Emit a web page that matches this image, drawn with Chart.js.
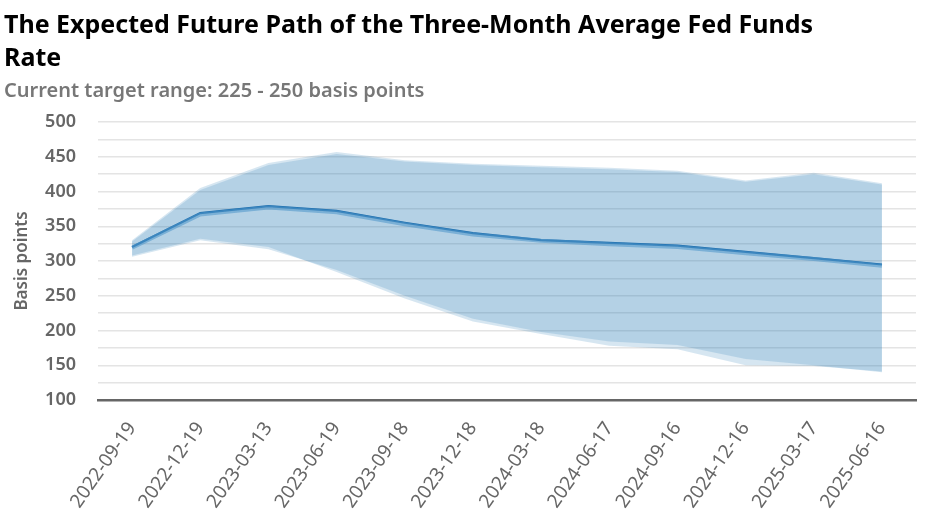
<!DOCTYPE html>
<html>
<head>
<meta charset="utf-8">
<script src="https://cdn.jsdelivr.net/npm/chart.js@4.4.0/dist/chart.umd.min.js"></script>
<style>
  body { margin: 0; background: #fff; }
  #wrap { width: 936px; height: 516px; }
</style>
</head>
<body>
<div id="wrap"><canvas id="fedChart"></canvas></div>
<script>
// Meeting dates (x categories)
const dates = ["2022-09-19", "2022-12-19", "2023-03-13", "2023-06-19", "2023-09-18", "2023-12-18",
               "2024-03-18", "2024-06-17", "2024-09-16", "2024-12-16", "2025-03-17", "2025-06-16"];

// Outer bands (basis points)
const upperA = [330, 405, 441, 457, 445, 440, 437, 434, 430, 416, 427, 412];
const lowerA = [306, 330, 317, 287, 250, 217, 198, 184, 179, 159, 150, 140];
const upperB = [328, 402, 438, 454, 443, 438, 435, 432, 428, 414, 425, 410];
const lowerB = [308, 332, 320, 284, 246, 213, 195, 178, 173, 150, 149, 141];

// Central paths
const pathLight = [319, 367, 377, 370, 353, 338, 329, 324, 320, 311, 303, 293];
const pathDark = [320, 369, 379, 372, 355, 340, 330, 326, 322, 313, 304, 295];

const bandFill = "rgba(31,119,180,0.185)";
const font = "'Noto Sans', sans-serif";

document.addEventListener("DOMContentLoaded", function () {
    const canvas = document.getElementById("fedChart");

    function bandTop(data) {
        return { data: data, fill: "+1", backgroundColor: bandFill, borderWidth: 0, pointRadius: 0, tension: 0 };
    }
    function bandBottom(data) {
        return { data: data, fill: false, borderWidth: 0, pointRadius: 0, tension: 0 };
    }

    new Chart(canvas, {
        type: "line",
        data: {
            labels: dates,
            datasets: [
                bandTop(upperA), bandBottom(lowerA),
                bandTop(upperB), bandBottom(lowerB),
                {
                    data: pathLight,
                    borderColor: "rgba(110,170,215,0.6)",
                    borderWidth: 4,
                    pointRadius: 0,
                    fill: false
                },
                {
                    data: pathDark,
                    borderColor: "#1766a9",
                    borderWidth: 2.2,
                    pointRadius: 0,
                    fill: false
                }
            ]
        },
        options: {
            responsive: true,
            maintainAspectRatio: false,
            animation: false,
            layout: { padding: { left: 4, right: 20, top: 2, bottom: 1 } },
            plugins: {
                legend: { display: false },
                tooltip: { enabled: false },
                title: {
                    display: true,
                    align: "start",
                    text: ["The Expected Future Path of the Three-Month Average Fed Funds", "Rate"],
                    color: "#000",
                    font: { family: font, size: 25, weight: "bold", lineHeight: 1.3 },
                    padding: { top: 8, bottom: 4, left: 10 }
                },
                subtitle: {
                    display: true,
                    align: "start",
                    text: "Current target range: 225 - 250 basis points",
                    color: "#777",
                    font: { family: font, size: 20, weight: "600" },
                    padding: { bottom: 19 }
                }
            },
            scales: {
                x: {
                    offset: true,
                    grid: { display: false },
                    border: { display: true, color: "#666", width: 2.5 },
                    afterFit: function (scale) { scale.height = 115; },
                    ticks: {
                        color: "#666",
                        minRotation: 55,
                        maxRotation: 55,
                        padding: 10,
                        font: { family: font, size: 19 }
                    }
                },
                y: {
                    min: 100,
                    max: 500,
                    border: { display: false },
                    grid: { color: "#e4e4e4", lineWidth: 1.5, drawTicks: false },
                    afterFit: function (scale) { scale.width = 94; },
                    title: {
                        display: true,
                        text: "Basis points",
                        color: "#666",
                        font: { family: font, size: 17, weight: "600" },
                        padding: { top: 8, bottom: 0 }
                    },
                    ticks: {
                        stepSize: 25,
                        autoSkip: false,
                        padding: 22,
                        color: "#666",
                        font: { family: font, size: 18, weight: "600" },
                        callback: function (v) { return v % 50 === 0 ? v : ""; }
                    }
                }
            }
        }
    });
});
</script>
</body>
</html>
